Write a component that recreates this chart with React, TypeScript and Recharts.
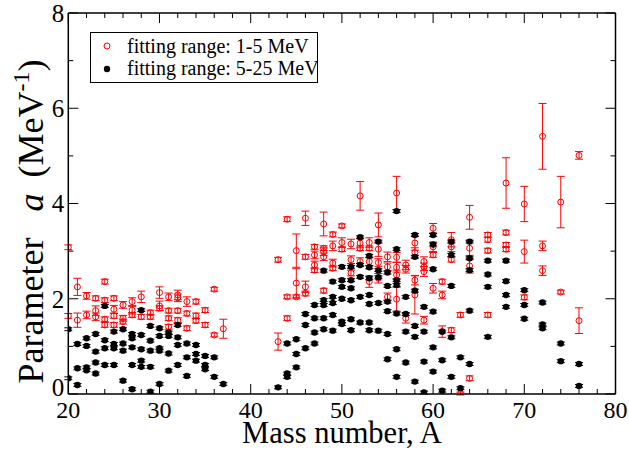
import React from 'react';
import { ScatterChart, Scatter, XAxis, YAxis, ErrorBar, Legend, Label } from 'recharts';

// ---------- data: [mass number A, parameter a (MeV^-1), error] ----------
const redLight: [number, number, number][] = [
  [20, 3.08, 0.05], [20, 1.64, 0.05],
  [21, 2.25, 0.18], [21, 1.55, 0.15],
  [22, 2.06, 0.07], [22, 1.66, 0.08],
  [23, 2.01, 0.05], [23, 1.75, 0.1], [23, 1.62, 0.08],
  [24, 2.36, 0.05], [24, 1.97, 0.05], [24, 1.57, 0.05], [24, 1.45, 0.05],
  [25, 2.01, 0.05], [25, 1.78, 0.08], [25, 1.64, 0.05], [25, 1.45, 0.05],
  [26, 1.87, 0.07], [26, 1.59, 0.06], [26, 1.52, 0.05],
  [27, 1.94, 0.08], [27, 1.76, 0.08], [27, 1.66, 0.05],
  [28, 2.04, 0.12], [28, 1.62, 0.05],
  [29, 1.71, 0.05], [29, 1.62, 0.05],
  [30, 2.13, 0.12], [30, 1.85, 0.1], [30, 1.8, 0.05],
  [31, 2.04, 0.08], [31, 1.75, 0.05], [31, 1.59, 0.05], [31, 1.41, 0.05],
  [32, 2.08, 0.1], [32, 2.02, 0.08], [32, 1.75, 0.05], [32, 1.55, 0.05],
  [33, 1.94, 0.1], [33, 1.69, 0.05], [33, 1.38, 0.05],
  [34, 1.94, 0.05], [34, 1.64, 0.06], [34, 1.54, 0.05],
  [35, 1.76, 0.05], [35, 1.45, 0.05],
  [36, 2.2, 0.04], [36, 1.24, 0.04],
  [37, 1.37, 0.2],
];

const redHeavy: [number, number, number][] = [
  [43, 2.82, 0.05], [43, 1.1, 0.18],
  [44, 3.67, 0.05], [44, 2.04, 0.04], [44, 1.59, 0.05],
  [45, 3.01, 0.35], [45, 2.33, 0.3], [45, 2.04, 0.04],
  [46, 3.69, 0.15], [46, 2.88, 0.05], [46, 2.25, 0.12], [46, 2.11, 0.05],
  [47, 3.09, 0.05], [47, 2.92, 0.08], [47, 2.71, 0.08], [47, 2.6, 0.05],
  [48, 3.57, 0.25], [48, 3.06, 0.05], [48, 2.99, 0.08], [48, 2.88, 0.08], [48, 2.17, 0.05],
  [49, 3.35, 0.05], [49, 3.11, 0.1], [49, 2.75, 0.08], [49, 2.64, 0.05],
  [50, 3.53, 0.04], [50, 3.18, 0.1], [50, 3.04, 0.05],
  [51, 3.15, 0.1], [51, 2.82, 0.08], [51, 2.54, 0.06],
  [52, 4.16, 0.3], [52, 3.17, 0.1], [52, 3.06, 0.05], [52, 2.78, 0.08],
  [53, 3.18, 0.1], [53, 3.06, 0.05], [53, 2.78, 0.08], [53, 2.36, 0.12],
  [54, 3.55, 0.25], [54, 3.04, 0.15], [54, 2.76, 0.08], [54, 2.43, 0.1],
  [55, 2.88, 0.1], [55, 2.67, 0.08], [55, 2.04, 0.08],
  [56, 4.22, 0.35], [56, 2.87, 0.1], [56, 2.66, 0.1], [56, 2.5, 0.1], [56, 1.99, 0.25],
  [57, 2.71, 0.1], [57, 2.62, 0.08], [57, 1.59, 0.1],
  [58, 3.17, 0.15], [58, 2.97, 0.1], [58, 2.39, 0.1], [58, 2.08, 0.4],
  [59, 2.78, 0.1], [59, 2.67, 0.08], [59, 2.57, 0.1], [59, 1.55, 0.08],
  [60, 3.48, 0.1], [60, 3.09, 0.1], [60, 2.92, 0.05], [60, 2.22, 0.1],
  [61, 2.36, 0.05], [61, 2.08, 0.08], [61, 1.31, 0.12],
  [62, 3.24, 0.15], [62, 3.09, 0.1], [62, 2.82, 0.05], [62, 1.34, 0.05],
  [63, 1.66, 0.05], [63, 0.01, 0.03],
  [64, 3.71, 0.25], [64, 3.06, 0.15], [64, 2.69, 0.15], [64, 0.33, 0.05],
  [66, 3.34, 0.05], [66, 3.24, 0.05], [66, 3.01, 0.05], [66, 1.66, 0.05],
  [68, 4.43, 0.53], [68, 3.39, 0.05], [68, 3.13, 0.05], [68, 3.04, 0.05],
  [70, 3.99, 0.37], [70, 2.99, 0.24], [70, 2.03, 0.05],
  [72, 5.41, 0.69], [72, 3.11, 0.1], [72, 2.59, 0.1],
  [74, 4.03, 0.54], [74, 2.14, 0.04],
  [76, 5.01, 0.08], [76, 1.54, 0.27],
];

const blackLight: [number, number][] = [
  [20, 1.36], [20, 0.33],
  [21, 1.05], [21, 0.54], [21, 0.19],
  [22, 1.17], [22, 1.01], [22, 0.56], [22, 0.5],
  [23, 1.26], [23, 0.89], [23, 0.66], [23, 0.43],
  [24, 1.85], [24, 1.13], [24, 0.96], [24, 0.61],
  [25, 1.31], [25, 1.05], [25, 0.96], [25, 0.61],
  [26, 1.36], [26, 1.06], [26, 0.91], [26, 0.28],
  [27, 1.26], [27, 1.17], [27, 0.98], [27, 0.61], [27, 0.1],
  [28, 1.76], [28, 1.24], [28, 0.94], [28, 0.7], [28, 0.57],
  [29, 1.43], [29, 1.12], [29, 0.91], [29, 0.57], [29, 0.05],
  [30, 1.38], [30, 1.22], [30, 0.96], [30, 0.91], [30, 0.21],
  [31, 1.29], [31, 1.22], [31, 0.85], [31, 0.49],
  [32, 1.45], [32, 1.19], [32, 1.03], [32, 0.61],
  [33, 1.06], [33, 0.77], [33, 0.38],
  [34, 1.03], [34, 0.84], [34, 0.7],
  [35, 0.8], [35, 0.61], [35, 0.52],
  [36, 0.77], [36, 0.36],
  [37, 0.21],
];

const blackHeavy: [number, number][] = [
  [43, 0.14],
  [44, 1.06], [44, 0.43], [44, 0.36],
  [45, 1.15], [45, 0.84], [45, 0.56],
  [46, 1.68], [46, 1.45], [46, 0.96],
  [47, 1.87], [47, 1.59], [47, 1.29], [47, 1.06],
  [48, 2.59], [48, 1.97], [48, 1.87], [48, 1.59], [48, 1.36],
  [49, 2.36], [49, 2.04], [49, 1.91], [49, 1.66], [49, 1.33],
  [50, 2.67], [50, 2.39], [50, 2.25], [50, 2.0], [50, 1.52], [50, 1.47],
  [51, 2.67], [51, 2.39], [51, 2.22], [51, 1.97], [51, 1.57], [51, 1.34],
  [52, 3.29], [52, 2.71], [52, 2.46], [52, 2.04], [52, 1.5],
  [53, 2.9], [53, 2.66], [53, 2.43], [53, 2.08], [53, 1.89], [53, 1.5], [53, 1.34],
  [54, 3.2], [54, 2.6], [54, 2.45], [54, 1.91], [54, 1.33],
  [55, 2.55], [55, 2.27], [55, 1.94], [55, 1.74], [55, 1.26], [55, 0.73],
  [56, 3.84], [56, 3.04], [56, 2.39], [56, 2.29], [56, 1.69], [56, 0.94], [56, 0.36],
  [57, 2.04], [57, 1.68], [57, 1.31], [57, 0.66],
  [58, 3.34], [58, 2.88], [58, 2.17], [58, 1.43], [58, 1.2], [58, 0.26],
  [59, 1.83], [59, 1.31], [59, 0.68], [59, 0.03],
  [60, 3.34], [60, 3.14], [60, 2.62], [60, 1.73], [60, 0.98], [60, 0.47],
  [61, 1.31], [61, 0.71], [61, 0.07],
  [62, 3.2], [62, 2.92], [62, 2.27], [62, 1.19], [62, 0.36],
  [63, 0.77], [63, 0.12],
  [64, 3.2], [64, 2.85], [64, 2.6], [64, 1.75], [64, 0.63],
  [66, 2.8], [66, 2.51], [66, 2.25], [66, 1.2],
  [68, 2.8], [68, 2.37], [68, 2.08], [68, 1.83],
  [70, 2.18], [70, 1.87], [70, 1.58],
  [72, 1.92], [72, 1.46], [72, 1.38],
  [74, 1.06], [74, 0.69],
  [76, 0.63], [76, 0.17],
];
const blackError = 0.03;

const xTicks = [20, 22, 24, 26, 28, 30, 32, 34, 36, 38, 40, 42, 44, 46, 48, 50, 52, 54, 56, 58, 60, 62, 64, 66, 68, 70, 72, 74, 76, 78, 80];
const yTicks = [0, 1, 2, 3, 4, 5, 6, 7, 8];
const legendLabels = ['fitting range: 1-5 MeV', 'fitting range: 5-25 MeV'];

// ---------- styling ----------
const FONT = 'Liberation Serif';
const RED = '#ff0000';
const BLACK = '#000000';
const MAJOR = 10;
const MINOR = 5;

const redData = [...redLight, ...redHeavy].map(([x, y, err]) => ({ x, y, err }));
const blackData = [...blackLight, ...blackHeavy].map(([x, y]) => ({ x, y, err: blackError }));

const isMajorX = (v: number) => v % 10 === 0;
const isMajorY = (v: number) => v % 2 === 0;

const BottomTick = (p: any) => {
  const { x, y, payload } = p;
  const v = payload.value;
  const major = isMajorX(v);
  return (
    <g>
      <line x1={x} x2={x} y1={y} y2={y - (major ? MAJOR : MINOR)} stroke={BLACK} strokeWidth={1} />
      {major && (
        <text x={x} y={y + 23.5} textAnchor="middle" fontFamily={FONT} fontSize={24} fill={BLACK}>
          {v}
        </text>
      )}
    </g>
  );
};

const TopTick = (p: any) => {
  const { x, y, payload } = p;
  const major = isMajorX(payload.value);
  return <line x1={x} x2={x} y1={y} y2={y + (major ? MAJOR : MINOR)} stroke={BLACK} strokeWidth={1} />;
};

const LeftTick = (p: any) => {
  const { x, y, payload } = p;
  const v = payload.value;
  const major = isMajorY(v);
  return (
    <g>
      <line x1={x} x2={x + (major ? MAJOR : MINOR)} y1={y} y2={y} stroke={BLACK} strokeWidth={1} />
      {major && (
        <text x={x - 4} y={y + (v === 0 ? -7 : 0)} dy="0.35em" textAnchor="end" fontFamily={FONT} fontSize={25} fill={BLACK}>
          {v}
        </text>
      )}
    </g>
  );
};

const RightTick = (p: any) => {
  const { x, y, payload } = p;
  const major = isMajorY(payload.value);
  return <line x1={x} x2={x - (major ? MAJOR : MINOR)} y1={y} y2={y} stroke={BLACK} strokeWidth={1} />;
};

const XTitle = (props: any) => {
  const vb = props.viewBox || { x: 0, y: 0, width: 0, height: 0 };
  return (
    <text x={vb.x + vb.width / 2} y={vb.y + 49} textAnchor="middle" fontFamily={FONT} fontSize={30.5} fill={BLACK}>
      Mass number, A
    </text>
  );
};

const YTitle = (props: any) => {
  const vb = props.viewBox || { x: 0, y: 0, width: 0, height: 0 };
  const cx = vb.x + 42.5;
  const cy = vb.y + vb.height / 2 + 18;
  return (
    <text transform={`translate(${cx}, ${cy}) rotate(-90)`} x={0} y={0} textAnchor="middle" fontFamily={FONT} fontSize={36} fill={BLACK}>
      <tspan>Parameter</tspan>
      <tspan dx={26} fontStyle="italic">a</tspan>
      <tspan dx={16}>(MeV</tspan>
      <tspan dy={-14} fontSize={24}>-1</tspan>
      <tspan dy={14}>)</tspan>
    </text>
  );
};

const RedMarker = (p: any) => <circle cx={p.cx} cy={p.cy} r={3} fill="none" stroke={RED} strokeWidth={1} />;
const BlackMarker = (p: any) => <circle cx={p.cx} cy={p.cy} r={3.2} fill={BLACK} stroke="none" />;

const LegendBox = () => (
  <svg width={228} height={51} style={{ display: 'block' }}>
    <rect x={0.5} y={0.5} width={227} height={50} fill="#ffffff" stroke={BLACK} strokeWidth={1} />
    <circle cx={17} cy={14} r={3} fill="none" stroke={RED} strokeWidth={1} />
    <text x={37} y={20.5} fontFamily={FONT} fontSize={20} fill={BLACK}>{legendLabels[0]}</text>
    <circle cx={17} cy={37} r={3.2} fill={BLACK} />
    <text x={37} y={42.5} fontFamily={FONT} fontSize={20} fill={BLACK}>{legendLabels[1]}</text>
  </svg>
);

const axisLine = { stroke: BLACK, strokeWidth: 1.5 };

export default function App() {
  return (
    <div style={{ position: 'absolute', left: 0, top: 0, width: 629, height: 450, background: '#fff' }}>
      <ScatterChart width={629} height={450} margin={{ top: 12, right: 12.5, bottom: 0, left: 0 }}>
        <XAxis
          xAxisId="b"
          type="number"
          dataKey="x"
          domain={[20, 80]}
          ticks={xTicks}
          interval={0}
          orientation="bottom"
          height={56}
          tickSize={0}
          tickMargin={0}
          tickLine={false}
          tick={BottomTick}
          axisLine={axisLine}
          allowDataOverflow
        >
          <Label content={XTitle} />
        </XAxis>
        <XAxis
          xAxisId="t"
          type="number"
          dataKey="x"
          domain={[20, 80]}
          ticks={xTicks}
          interval={0}
          orientation="top"
          height={1}
          tickSize={0}
          tickMargin={0}
          tickLine={false}
          tick={TopTick}
          axisLine={axisLine}
          allowDataOverflow
        />
        <YAxis
          yAxisId="l"
          type="number"
          dataKey="y"
          domain={[0, 8]}
          ticks={yTicks}
          interval={0}
          orientation="left"
          width={68.3}
          tickSize={0}
          tickMargin={0}
          tickLine={false}
          tick={LeftTick}
          axisLine={axisLine}
          allowDataOverflow
        >
          <Label content={YTitle} />
        </YAxis>
        <YAxis
          yAxisId="r"
          type="number"
          dataKey="y"
          domain={[0, 8]}
          ticks={yTicks}
          interval={0}
          orientation="right"
          width={1}
          tickSize={0}
          tickMargin={0}
          tickLine={false}
          tick={RightTick}
          axisLine={axisLine}
          allowDataOverflow
        />
        <Legend
          layout="horizontal"
          verticalAlign="middle"
          align="center"
          wrapperStyle={{ left: 90, top: 32, width: 228, height: 51 }}
          content={LegendBox}
        />
        <Scatter
          name={legendLabels[0]}
          xAxisId="b"
          yAxisId="l"
          data={redData}
          shape={RedMarker}
          isAnimationActive={false}
        >
          <ErrorBar dataKey="err" direction="y" width={4} stroke={RED} strokeWidth={1} isAnimationActive={false} />
        </Scatter>
        <Scatter
          name={legendLabels[1]}
          xAxisId="b"
          yAxisId="l"
          data={blackData}
          shape={BlackMarker}
          isAnimationActive={false}
        >
          <ErrorBar dataKey="err" direction="y" width={4} stroke={BLACK} strokeWidth={1} isAnimationActive={false} />
        </Scatter>
      </ScatterChart>
    </div>
  );
}
